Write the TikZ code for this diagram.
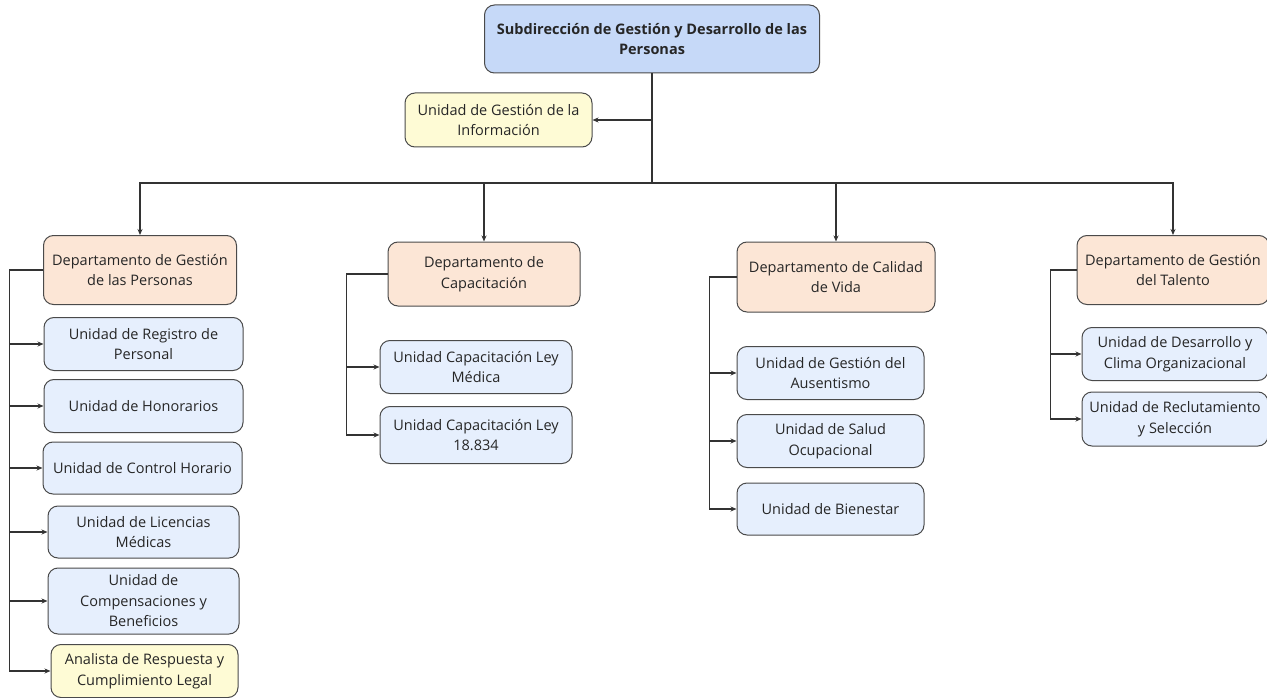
\documentclass[tikz,border=0pt]{standalone}
\usepackage{fontspec}
\setmainfont{Open Sans}
\usetikzlibrary{arrows.meta, positioning}

\definecolor{topblue}{HTML}{C6D9F8}
\definecolor{deptpeach}{HTML}{FCE6D6}
\definecolor{unitblue}{HTML}{E6EFFD}
\definecolor{noteyellow}{HTML}{FEFBD5}
\definecolor{edgegray}{HTML}{4A4A4A}
\definecolor{linkgray}{HTML}{333333}

\begin{document}
\begin{tikzpicture}[x=1pt,y=-1pt,>={Stealth[length=6pt,width=5pt]},
      line width=1.3pt,draw=linkgray,
      box/.style={draw=edgegray,line width=1pt,rounded corners=10pt,align=center,inner sep=2pt,
        font=\fontsize{14.5}{20.5}\selectfont,text=black!85},
      head node/.style={box,fill=topblue,font=\fontsize{14.5}{20.5}\selectfont\bfseries},
      dept node/.style={box,fill=deptpeach},
      unit node/.style={box,fill=unitblue},
      note node/.style={box,fill=noteyellow}]

      \useasboundingbox (0,0) rectangle (1267,698);

      \node[head node,minimum width=335,minimum height=68] (S) at (652,39) {Subdirección de Gestión y Desarrollo de las\\Personas};
      \node[note node,minimum width=187,minimum height=54] (I) at (498.5,120) {Unidad de Gestión de la\\Información};

      % departamentos
      \node[dept node,minimum width=193,minimum height=69] (D1) at (140,270) {Departamento de Gestión\\de las Personas};
      \node[dept node,minimum width=192,minimum height=64] (D2) at (484,274) {Departamento de\\Capacitación};
      \node[dept node,minimum width=198,minimum height=70] (D3) at (836,277) {Departamento de Calidad\\de Vida};
      \node[dept node,minimum width=192,minimum height=69] (D4) at (1173,270) {Departamento de Gestión\\del Talento};

      % unidades
      \node[unit node,minimum width=199,minimum height=53] (U11) at (143.5,344) {Unidad de Registro de\\Personal};
      \node[unit node,minimum width=199,minimum height=53] (U12) at (143.5,406) {Unidad de Honorarios};
      \node[unit node,minimum width=199,minimum height=52] (U13) at (142.5,468) {Unidad de Control Horario};
      \node[unit node,minimum width=191,minimum height=52] (U14) at (143.5,532) {Unidad de Licencias\\Médicas};
      \node[unit node,minimum width=191,minimum height=66] (U15) at (143.5,601) {Unidad de\\Compensaciones y\\Beneficios};
      \node[note node,minimum width=187,minimum height=53] (U16) at (144.5,671) {Analista de Respuesta y\\Cumplimiento Legal};

      \node[unit node,minimum width=192,minimum height=53] (U21) at (476,367) {Unidad Capacitación Ley\\Médica};
      \node[unit node,minimum width=192,minimum height=57] (U22) at (476,435) {Unidad Capacitación Ley\\18.834};

      \node[unit node,minimum width=187,minimum height=53] (U31) at (830.5,373) {Unidad de Gestión del\\Ausentismo};
      \node[unit node,minimum width=187,minimum height=53] (U32) at (830.5,441) {Unidad de Salud\\Ocupacional};
      \node[unit node,minimum width=187,minimum height=52] (U33) at (830.5,509) {Unidad de Bienestar};

      \node[unit node,minimum width=186,minimum height=53] (U41) at (1175,354) {Unidad de Desarrollo y\\Clima Organizacional};
      \node[unit node,minimum width=186,minimum height=54] (U42) at (1175,419) {Unidad de Reclutamiento\\y Selección};

      \coordinate (bus) at (652,183);
      \coordinate (tap) at (652,120);

      \draw (S.south) -- (bus);
      \draw[->] (tap) -- (I.east);
      \foreach \d in {D1,D2,D3,D4} {
          \draw[->] (bus) -| (\d.north);}

      \foreach \u in {U11,U12,U13,U14,U15,U16} {
          \draw[->] (D1.west) -- ++(-33.5,0) |- (\u.west);}
      \foreach \u in {U21,U22} {
          \draw[->] (D2.west) -- ++(-41,0) |- (\u.west);}
      \foreach \u in {U31,U32,U33} {
          \draw[->] (D3.west) -- ++(-27,0) |- (\u.west);}
      \foreach \u in {U41,U42} {
          \draw[->] (D4.west) -- ++(-26,0) |- (\u.west);}
\end{tikzpicture}
\end{document}
